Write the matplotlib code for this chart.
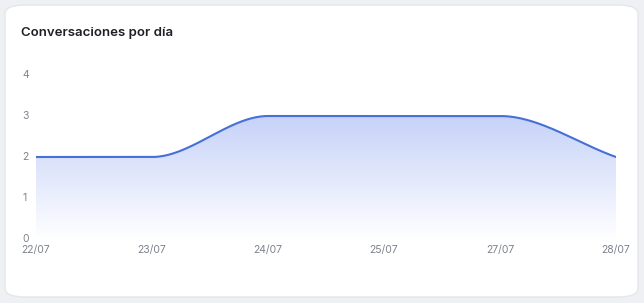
import matplotlib
matplotlib.use("Agg")
import matplotlib.pyplot as plt
import numpy as np
from matplotlib.colors import LinearSegmentedColormap
from matplotlib.patches import FancyBboxPatch, Polygon

days = ["22/07", "23/07", "24/07", "25/07", "27/07", "28/07"]
conversations = [2, 2, 3, 3, 3, 2]
y_ticks = [0, 1, 2, 3, 4]

LINE = "#4670d6"
TICK = "#7d828b"

plt.rcParams["font.family"] = ["Inter", "DejaVu Sans"]


def monotone(xs, ys, n=400):
    """Monotone cubic (Fritsch-Carlson) curve through the points."""
    xs = np.asarray(xs, float); ys = np.asarray(ys, float)
    h = np.diff(xs); d = np.diff(ys) / h
    m = np.zeros_like(ys)
    m[0], m[-1] = d[0], d[-1]
    for i in range(1, len(ys) - 1):
        if d[i - 1] * d[i] > 0:
            m[i] = 3 * (h[i - 1] + h[i]) / ((2 * h[i] + h[i - 1]) / d[i - 1] + (h[i] + 2 * h[i - 1]) / d[i])
    xx = np.linspace(xs[0], xs[-1], n)
    idx = np.clip(np.searchsorted(xs, xx) - 1, 0, len(h) - 1)
    t = (xx - xs[idx]) / h[idx]
    h00 = 2 * t**3 - 3 * t**2 + 1; h10 = t**3 - 2 * t**2 + t
    h01 = -2 * t**3 + 3 * t**2; h11 = t**3 - t**2
    yy = h00 * ys[idx] + h10 * h[idx] * m[idx] + h01 * ys[idx + 1] + h11 * h[idx] * m[idx + 1]
    return xx, yy


W, H = 644, 303
fig = plt.figure(figsize=(W / 100, H / 100), dpi=100, facecolor="#eef0f4")
card = FancyBboxPatch((5 / W, 6 / H), 633 / W, 292 / H,
                      boxstyle="round,pad=0,rounding_size=0.03",
                      transform=fig.transFigure, facecolor="white",
                      edgecolor="#e3e6eb", linewidth=1, zorder=-5)
fig.patches.append(card)

fig.text(21 / W, 1 - 33 / H, "Conversaciones por día", fontsize=9.5,
         fontweight="semibold", color="#1c1f26", va="center", ha="left")

ax = fig.add_axes([36 / W, 64 / H, 580 / W, 164 / H])
ax.set_facecolor("none")
x = np.arange(len(days))
xx, yy = monotone(x, conversations)

# gradient fill under the curve
grad = np.linspace(1, 0, 256).reshape(-1, 1)
cmap = LinearSegmentedColormap.from_list("g", ["#ffffff", "#c6d2f8"])
img = ax.imshow(grad, extent=[0, len(days) - 1, 0, max(conversations)], aspect="auto",
                cmap=cmap, vmin=0, vmax=1, origin="upper", zorder=1)
poly = Polygon(np.column_stack([np.r_[xx, xx[-1], xx[0]], np.r_[yy, 0, 0]]),
               closed=True, transform=ax.transData, facecolor="none", edgecolor="none")
ax.add_patch(poly)
img.set_clip_path(poly)

ax.plot(xx, yy, color=LINE, lw=1.5, zorder=3, solid_capstyle="round")

ax.set_xlim(0, len(days) - 1)
ax.set_ylim(0, 4)
ax.set_xticks(x)
ax.set_xticklabels(days)
ax.set_yticks(y_ticks)
for s in ax.spines.values():
    s.set_visible(False)
ax.tick_params(axis="both", length=0, labelsize=7.5, labelcolor=TICK)
ax.tick_params(axis="x", pad=4)
ax.tick_params(axis="y", pad=10)
for lab in ax.get_yticklabels():
    lab.set_horizontalalignment("left")
    lab.set_verticalalignment("center")

fig.savefig("out.png", dpi=100, facecolor=fig.get_facecolor())
